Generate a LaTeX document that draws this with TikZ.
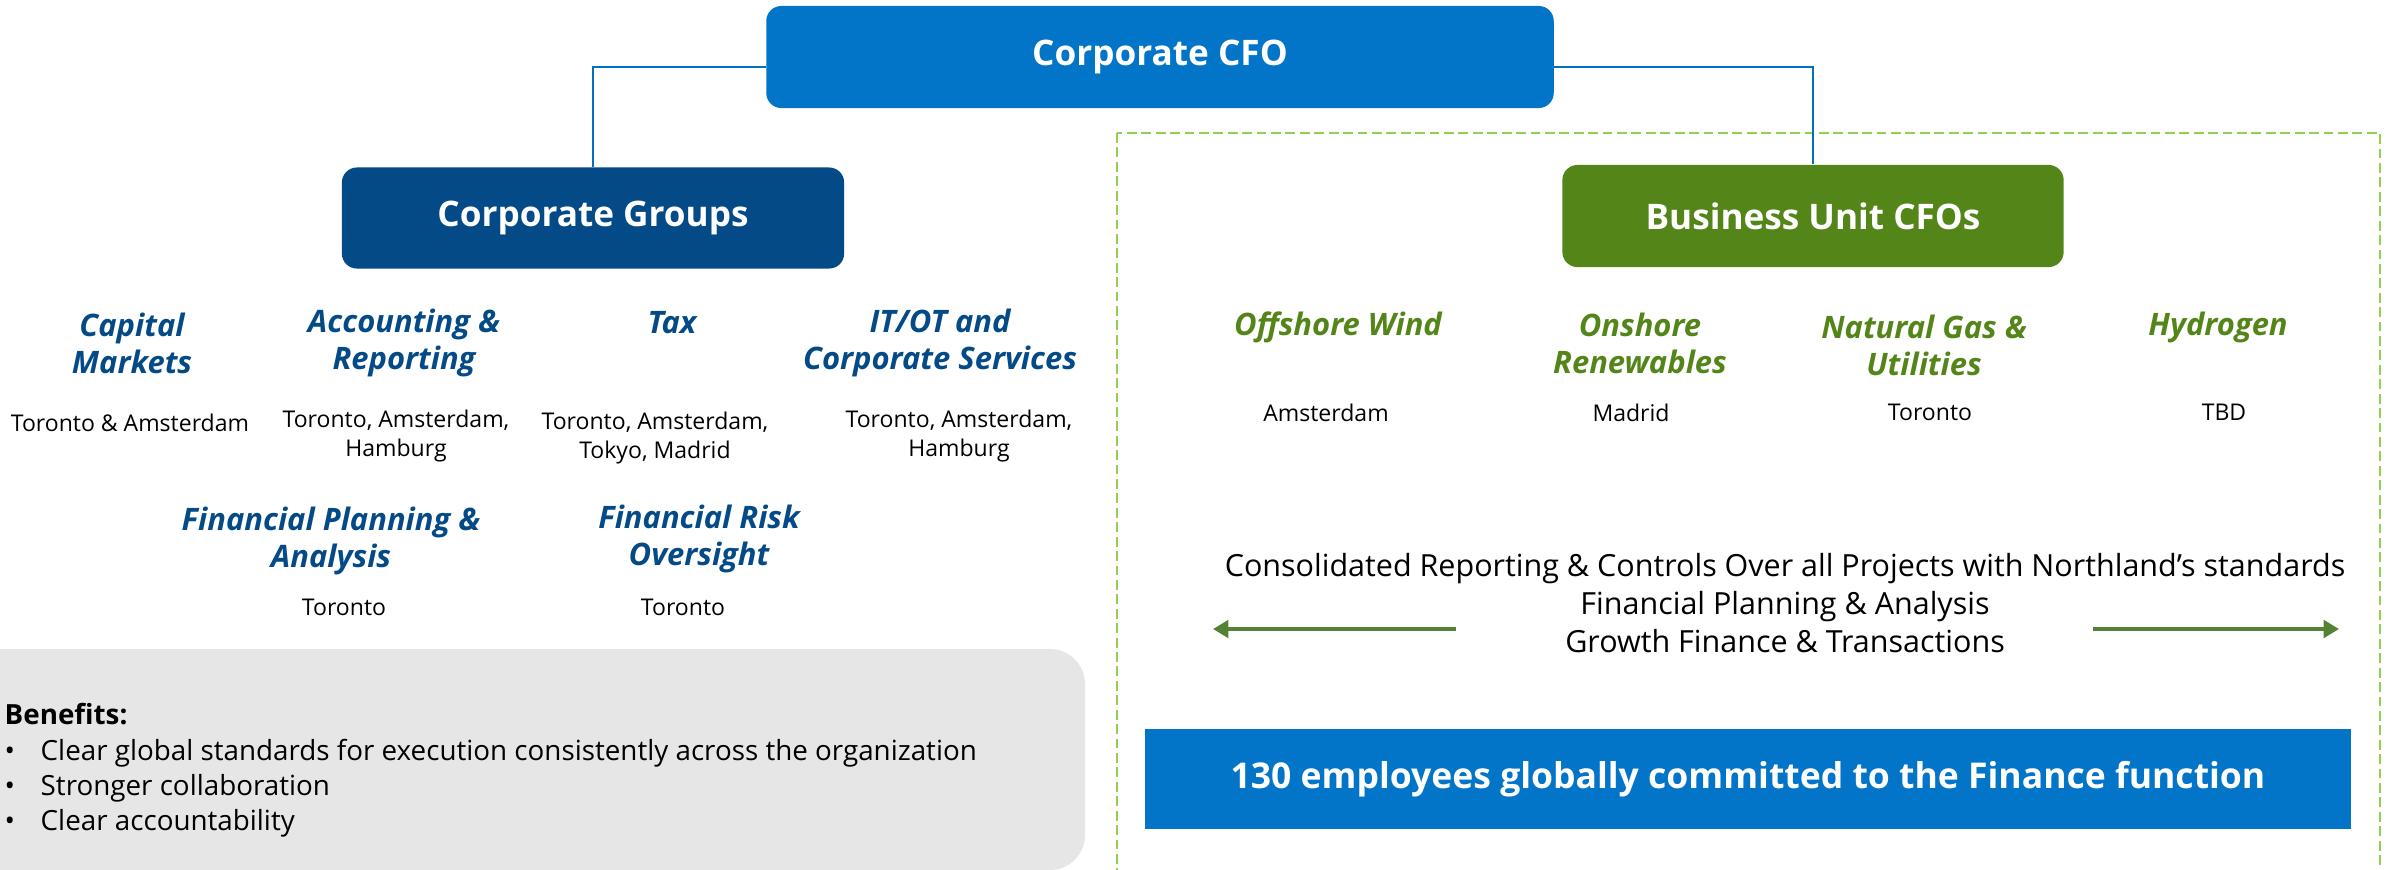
\documentclass[tikz,border=0pt]{standalone}
\usepackage{fontspec}
\setmainfont{Open Sans}
\usepackage{xcolor}
\usetikzlibrary{positioning,arrows.meta,calc}
\definecolor{cfoblue}{HTML}{0275C9}
\definecolor{grpblue}{HTML}{034A87}
\definecolor{bugreen}{HTML}{548519}
\definecolor{dashgreen}{HTML}{92D050}
\definecolor{linegreen}{HTML}{548235}
\definecolor{boxgray}{HTML}{E6E6E6}
\definecolor{lineblue}{HTML}{0070C0}

\begin{document}
\begin{tikzpicture}[x=0.01cm,y=-0.01cm,
  head/.style={rounded corners=0.15cm,text=white,inner sep=0pt,
    font=\fontsize{10}{12}\selectfont\bfseries},
  grphead/.style={text=grpblue,align=center,
    font=\fontsize{8.8}{10.5}\selectfont\bfseries\itshape},
  unithead/.style={text=bugreen,align=center,
    font=\fontsize{8.8}{10.5}\selectfont\bfseries\itshape},
  city/.style={align=center,font=\fontsize{6.55}{8}\selectfont},
  link/.style={lineblue,line width=0.6pt},
  spread/.style={linegreen,line width=1pt,-{Triangle[length=4.4pt,width=5pt]}}]
\useasboundingbox (0,0) rectangle (2389,869);

% backgrounds
\fill[boxgray,rounded corners=0.35cm] (-60,649) rectangle (1085,870);
\draw[dashgreen,line width=0.65pt,dash pattern=on 2.8pt off 1.3pt] (1117,133) rectangle (2380,920);

% top of the tree
\node[head,fill=cfoblue,minimum width=7.87cm,minimum height=1.02cm] (cfo) at (1160,57) {Corporate CFO};
\node[head,fill=grpblue,minimum width=5.02cm,minimum height=1.01cm] (grp) at (593,218) {Corporate Groups};
\node[head,fill=bugreen,minimum width=5.01cm,minimum height=1.02cm] (bu) at (1813,216) {Business Unit CFOs};
\draw[link] ([yshift=-0.1cm]cfo.west) -| (grp.north);
\draw[link] ([yshift=-0.1cm]cfo.east) -| (bu.north);

% corporate groups
\node[grphead] (capm) at (132,343) {Capital\\Markets};
\node[grphead] (accr) at (404,343) {Accounting \&\\Reporting};
\node[grphead] (tax) at (672,323) {Tax};
\node[grphead] (itot) at (940,343) {IT/OT and\\Corporate Services};
\node[grphead] (fpa) at (331,541) {Financial Planning \&\\Analysis};
\node[grphead] (risk) at (699,539) {Financial Risk\\Oversight};
\node[city] (capmloc) at (130,423) {Toronto \& Amsterdam};
\node[city] (accrloc) at (396,436) {Toronto, Amsterdam,\\Hamburg};
\node[city] (taxloc) at (655,438) {Toronto, Amsterdam,\\Tokyo, Madrid};
\node[city] (itotloc) at (959,436) {Toronto, Amsterdam,\\Hamburg};
\node[city] (fpaloc) at (344,607) {Toronto};
\node[city] (riskloc) at (683,607) {Toronto};

% business units
\node[unithead] (wind) at (1338,327) {Offshore Wind};
\node[unithead] (onsh) at (1640,343) {Onshore\\Renewables};
\node[unithead] (gas) at (1924,345) {Natural Gas \&\\Utilities};
\node[unithead] (hyd) at (2218,327) {Hydrogen};
\node[city] (windloc) at (1326,413) {Amsterdam};
\node[city] (onshloc) at (1631,413) {Madrid};
\node[city] (gasloc) at (1930,412) {Toronto};
\node[city] (hydloc) at (2224,412) {TBD};

% shared functions
\node[align=center,font=\fontsize{8.67}{10.8}\selectfont] (shared) at (1785,603)
  {Consolidated Reporting \& Controls Over all Projects with Northland’s standards\\
   Financial Planning \& Analysis\\Growth Finance \& Transactions};
\coordinate (ltail) at (1456,629);
\coordinate (ltip) at (1213,629);
\coordinate (rtail) at (2093,629);
\coordinate (rtip) at (2339,629);
\draw[spread] (ltail) -- (ltip);
\draw[spread] (rtail) -- (rtip);

\node[fill=cfoblue,text=white,minimum width=12.06cm,minimum height=1cm,
  font=\fontsize{10.1}{12}\selectfont\bfseries] (staff) at (1748,779)
  {130 employees globally committed to the Finance function};

% benefits
\node[anchor=north west,align=left,inner sep=0pt,font=\fontsize{7.9}{10}\selectfont] (benefits) at (4,703)
  {\textbf{Benefits:}\\
   \makebox[0.36cm][l]{•}Clear global standards for execution consistently across the organization\\
   \makebox[0.36cm][l]{•}Stronger collaboration\\
   \makebox[0.36cm][l]{•}Clear accountability};
\end{tikzpicture}
\end{document}
